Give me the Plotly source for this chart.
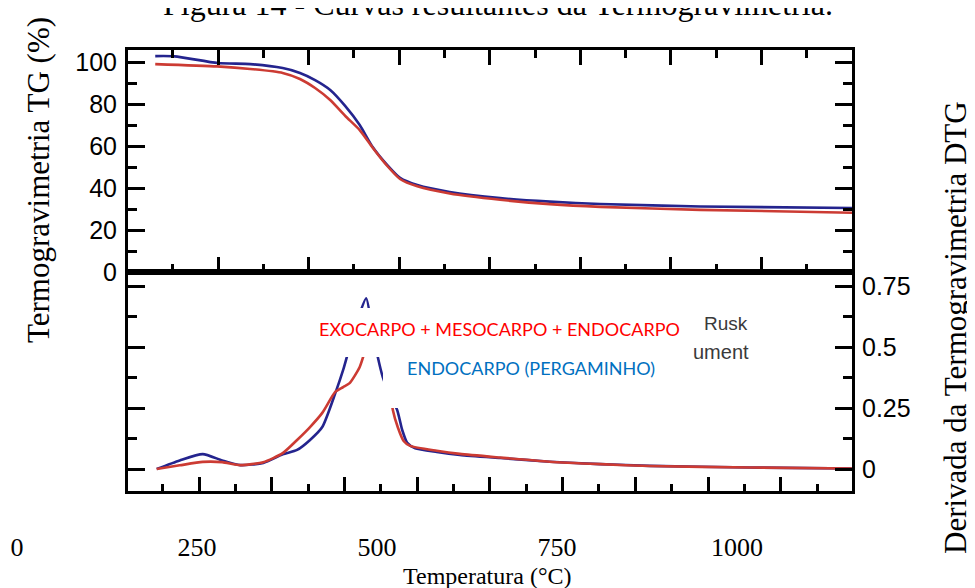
import plotly.graph_objects as go

# ---------------- data ----------------
# TG (%) curves, top panel
tg_temp_endo = [192, 219, 279, 324, 369, 393, 414, 435, 456, 476, 494, 514, 532, 556, 601, 671, 740, 810, 949, 1160]
tg_endo      = [102.8, 102.7, 99.5, 99.0, 97.1, 94.8, 91.4, 86.7, 79.0, 70.0, 59.5, 51.0, 44.8, 41.4, 38.1, 35.2, 33.5, 32.4, 31.2, 30.5]
tg_temp_full = [192, 278, 324, 369, 393, 414, 435, 456, 476, 494, 514, 532, 556, 601, 671, 740, 810, 949, 1160]
tg_full      = [99.0, 97.9, 96.7, 94.8, 91.9, 87.6, 81.9, 74.3, 67.6, 59.2, 50.6, 44.3, 40.8, 37.4, 34.4, 32.3, 31.0, 29.6, 28.2]

# DTG curves, bottom panel
dtg_temp_endo = [194, 226, 258, 285, 310, 342, 369, 389, 407, 424, 442, 453, 462, 474, 485, 493, 501, 508, 518, 528,
                 535, 542, 553, 583, 615, 671, 740, 810, 879, 1018, 1160]
dtg_endo      = [0, 0.035, 0.061, 0.035, 0.016, 0.025, 0.06, 0.078, 0.119, 0.172, 0.31, 0.406, 0.50, 0.62, 0.70, 0.58,
                 0.46, 0.377, 0.30, 0.242, 0.16, 0.107, 0.085, 0.07, 0.058, 0.045, 0.030, 0.020, 0.013, 0.006, 0.002]
dtg_temp_full = [194, 226, 258, 285, 310, 342, 369, 389, 407, 424, 442, 453, 462, 476, 485, 492, 499, 506, 513, 518,
                 522, 529, 537, 546, 583, 615, 671, 740, 810, 879, 1018, 1160]
dtg_full      = [0, 0.015, 0.029, 0.028, 0.016, 0.028, 0.065, 0.119, 0.172, 0.23, 0.316, 0.336, 0.352, 0.418, 0.50, 0.57,
                 0.60, 0.55, 0.45, 0.33, 0.242, 0.17, 0.115, 0.095, 0.075, 0.062, 0.047, 0.030, 0.020, 0.012, 0.006, 0.002]

x_tick_vals = [0, 250, 500, 750, 1000]
x_tick_text = ["0", "250", "500", "750", "1000"]
tg_ticks = [0, 20, 40, 60, 80, 100]
dtg_tick_vals = [0, 0.25, 0.5, 0.75]
dtg_tick_text = ["0", "0.25", "0.5", "0.75"]

label_full = "EXOCARPO + MESOCARPO + ENDOCARPO"
label_endo = "ENDOCARPO (PERGAMINHO)"

# ---------------- layout geometry (reference pixels) ----------------
OFF = 8                      # page body margin
W, H = 975 - OFF, 588 - OFF
PL, PR, PT, PB = 10, 852, 50, 491
FRAME_L = 128
SPLIT = 272
pw, ph = PR - PL, PB - PT

def px(x):
    return (x - PL) / pw

def py(y):
    return (PB - y) / ph

BLUE = "#24248e"
RED = "#cc3b33"
sans = "Liberation Sans"
serif = "Liberation Serif"

# temperature scale: pixel = 17 + 0.72*T
k = 0.72
x0 = 17
xr_panel = [(FRAME_L - x0) / k, (PR - x0) / k]
xr_full = [(PL - x0) / k, (PR - x0) / k]

fig = go.Figure()
line_kw = dict(shape="spline", smoothing=0.6, width=2.6)
fig.add_trace(go.Scatter(x=tg_temp_endo, y=tg_endo, mode="lines", line=dict(color=BLUE, **line_kw),
                         xaxis="x", yaxis="y", showlegend=False, hoverinfo="skip"))
fig.add_trace(go.Scatter(x=tg_temp_full, y=tg_full, mode="lines", line=dict(color=RED, **line_kw),
                         xaxis="x", yaxis="y", showlegend=False, hoverinfo="skip"))
fig.add_trace(go.Scatter(x=dtg_temp_endo, y=dtg_endo, mode="lines", line=dict(color=BLUE, **line_kw),
                         xaxis="x2", yaxis="y2", showlegend=False, hoverinfo="skip"))
fig.add_trace(go.Scatter(x=dtg_temp_full, y=dtg_full, mode="lines", line=dict(color=RED, **line_kw),
                         xaxis="x2", yaxis="y2", showlegend=False, hoverinfo="skip"))
# empty trace carrying the temperature label axis
fig.add_trace(go.Scatter(x=[], y=[], xaxis="x4", yaxis="y2", showlegend=False, hoverinfo="skip"))

dom_x = [px(FRAME_L), 1]
split_frac = py(SPLIT)
top_dt = 125.8
bot_dt = 101.0

frame = dict(showline=True, linecolor="black", linewidth=3, showgrid=False, zeroline=False)
tickc = dict(tickwidth=3, tickcolor="black")

fig.update_layout(
    width=W, height=H,
    margin=dict(l=PL - OFF, r=W - (PR - OFF), t=PT - OFF, b=H - (PB - OFF), pad=0),
    paper_bgcolor="white", plot_bgcolor="rgba(0,0,0,0)",
    xaxis=dict(domain=dom_x, range=xr_panel, anchor="y", ticks="inside", ticklen=15, **tickc,
               tick0=279.2, dtick=top_dt, showticklabels=False, mirror="ticks",
               minor=dict(ticks="inside", ticklen=8, **tickc, tick0=279.2 - top_dt / 2, dtick=top_dt),
               **frame),
    yaxis=dict(domain=[split_frac, 1], range=[0, (SPLIT - PT) / 2.1], anchor="x", ticks="inside", ticklen=17,
               **tickc, tickvals=tg_ticks, mirror="ticks",
               minor=dict(ticks="inside", ticklen=9, **tickc, tick0=10, dtick=20),
               tickfont=dict(family=sans, size=25, color="black"), ticklabelstandoff=3, **frame),
    xaxis2=dict(domain=dom_x, range=xr_panel, anchor="y2", ticks="inside", ticklen=14, **tickc,
                tick0=252.8, dtick=bot_dt, showticklabels=False, mirror=True,
                minor=dict(ticks="inside", ticklen=7, **tickc, tick0=252.8 - bot_dt / 2, dtick=bot_dt),
                **frame),
    xaxis3=dict(range=xr_panel, anchor="y2", overlaying="x2", side="top", ticks="inside", ticklen=15,
                **tickc, tick0=279.2, dtick=top_dt, showticklabels=False,
                minor=dict(ticks="inside", ticklen=8, **tickc, tick0=279.2 - top_dt / 2, dtick=top_dt),
                showline=False, showgrid=False, zeroline=False),
    xaxis4=dict(domain=[0, 1], range=xr_full, anchor="y2", tickvals=x_tick_vals, ticktext=x_tick_text,
                ticks="outside", ticklen=33, tickcolor="rgba(0,0,0,0)", showline=False, showgrid=False,
                zeroline=False, tickfont=dict(family=serif, size=26, color="black")),
    yaxis2=dict(domain=[0, split_frac], range=[-(PB - 469) / 244, (469 - SPLIT) / 244], anchor="x2",
                side="right", ticks="inside", ticklen=17, **tickc,
                tickvals=dtg_tick_vals, ticktext=dtg_tick_text, mirror="ticks",
                minor=dict(ticks="inside", ticklen=9, **tickc, tick0=0.125, dtick=0.25),
                tickfont=dict(family=sans, size=25, color="black"), ticklabelstandoff=2, **frame),
)

# white patches from the pasted legend
fig.add_shape(type="rect", xref="paper", yref="paper", x0=px(313), x1=px(686), y0=py(357), y1=py(308),
              fillcolor="white", line=dict(width=0), layer="above")
fig.add_shape(type="rect", xref="paper", yref="paper", x0=px(383), x1=px(686), y0=py(408), y1=py(356),
              fillcolor="white", line=dict(width=0), layer="above")

def note(text, x, y, size, family, color, angle=0, xanchor="center", yanchor="middle"):
    return dict(text=text, x=px(x), y=py(y), xref="paper", yref="paper", showarrow=False,
                xanchor=xanchor, yanchor=yanchor, textangle=angle,
                font=dict(family=family, size=size, color=color))

ann = [
    note(label_full, 499, 329, 18, "Lato", "#ff0000"),
    note(label_endo, 531, 368, 18, "Lato", "#0070c0"),
    note("Rusk", 702, 323, 19, sans, "#3a3a3a", xanchor="left"),
    note("ument", 691, 352, 20, sans, "#3a3a3a", xanchor="left"),
    note("Temperatura (°C)", 487, 576, 24, serif, "black"),
    note("Termogravimetria TG (%)", 38, 180, 31, serif, "black", angle=-90),
    note("Derivada da Termogravimetria DTG", 955, 328, 31, serif, "black", angle=-90),
    note("Figura 14 - Curvas resultantes da Termogravimetria.", 498, 24, 32, serif, "black", yanchor="bottom"),
]
fig.update_layout(annotations=ann)

fig.write_html("out.html")
